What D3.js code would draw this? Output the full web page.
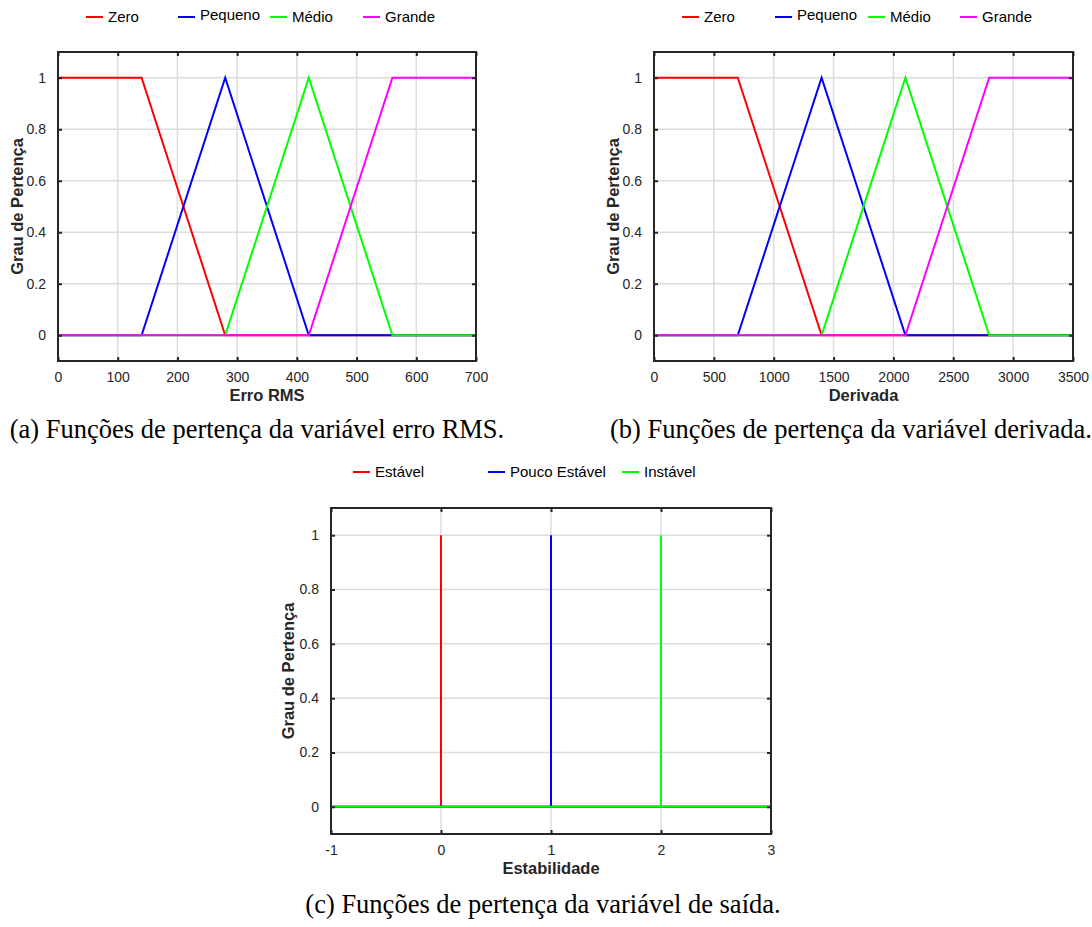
<!DOCTYPE html>
<html><head><meta charset="utf-8">
<script src="https://cdn.jsdelivr.net/npm/d3@7"></script>
<style>body{margin:0;background:#fff}svg{display:block}</style>
</head><body>
<svg id="c" width="1092" height="927"></svg>
<script>
// ---- data ----
const namesIn = ["Zero", "Pequeno", "Médio", "Grande"];
const namesOut = ["Estável", "Pouco Estável", "Instável"];
const colorsIn = ["#ff0000", "#0000ff", "#00ff00", "#ff00ff"];
const colorsOut = ["#ff0000", "#0000ff", "#00ff00"];
// Erro RMS membership functions [x, grau]
const errZero = [[0,1],[140,1],[280,0],[700,0]];
const errPequeno = [[0,0],[140,0],[280,1],[420,0],[700,0]];
const errMedio = [[0,0],[280,0],[420,1],[560,0],[700,0]];
const errGrande = [[0,0],[420,0],[560,1],[700,1]];
// Derivada membership functions
const derZero = [[0,1],[700,1],[1400,0],[3500,0]];
const derPequeno = [[0,0],[700,0],[1400,1],[2100,0],[3500,0]];
const derMedio = [[0,0],[1400,0],[2100,1],[2800,0],[3500,0]];
const derGrande = [[0,0],[2100,0],[2800,1],[3500,1]];
// Estabilidade (singletons)
const estEstavel = [[-1,0],[0,0],[0,1],[0,0],[3,0]];
const estPouco = [[-1,0],[1,0],[1,1],[1,0],[3,0]];
const estInstavel = [[-1,0],[2,0],[2,1],[2,0],[3,0]];
// ticks
const errTicks = [0,100,200,300,400,500,600,700];
const derTicks = [0,500,1000,1500,2000,2500,3000,3500];
const estTicks = [-1,0,1,2,3];
const yTicks = [0,0.2,0.4,0.6,0.8,1];
const yTickLabels = ["0","0.2","0.4","0.6","0.8","1"];
const captions = ["(a) Funções de pertença da variável erro RMS.",
  "(b) Funções de pertença da variável derivada.",
  "(c) Funções de pertença da variável de saída."];

const svg = d3.select("#c");
const SANS = "'Liberation Sans', Arial, sans-serif";

function panel(o) {
  const g = svg.append("g");
  const x = d3.scaleLinear().domain(o.xDomain).range([o.left, o.right]);
  const y = d3.scaleLinear().domain([-0.1, 1.1]).range([o.bottom, o.top]);
  // grid
  g.append("g").selectAll("line").data(o.xTicks).join("line")
    .attr("x1", d => x(d)).attr("x2", d => x(d)).attr("y1", o.top).attr("y2", o.bottom)
    .attr("stroke", "#dcdcdc").attr("stroke-width", 1.5);
  g.append("g").selectAll("line").data(yTicks).join("line")
    .attr("y1", d => y(d)).attr("y2", d => y(d)).attr("x1", o.left).attr("x2", o.right)
    .attr("stroke", "#dcdcdc").attr("stroke-width", 1.5);
  // series
  const line = d3.line().x(d => x(d[0])).y(d => y(d[1]));
  o.series.forEach((s, i) => {
    g.append("path").datum(s).attr("d", line).attr("fill", "none")
      .attr("stroke", o.colors[i]).attr("stroke-width", 2).attr("stroke-linejoin", "miter");
  });
  // axes with inner ticks
  const tk = 4;
  const axB = g.append("g").attr("transform", `translate(0,${o.bottom})`)
    .call(d3.axisBottom(x).tickValues(o.xTicks).tickSize(-tk).tickPadding(11).tickFormat(d => String(d)));
  const axT = g.append("g").attr("transform", `translate(0,${o.top})`)
    .call(d3.axisTop(x).tickValues(o.xTicks).tickSize(-tk).tickFormat(""));
  const axL = g.append("g").attr("transform", `translate(${o.left},0)`)
    .call(d3.axisLeft(y).tickValues(yTicks).tickSize(-tk).tickPadding(12).tickFormat((d, i) => yTickLabels[i]));
  const axR = g.append("g").attr("transform", `translate(${o.right},0)`)
    .call(d3.axisRight(y).tickValues(yTicks).tickSize(-tk).tickFormat(""));
  [axB, axT, axL, axR].forEach(a => {
    a.select(".domain").remove();
    a.selectAll(".tick line").attr("stroke", "#262626").attr("stroke-width", 2);
    a.selectAll("text").attr("font-family", SANS).attr("font-size", 14).attr("fill", "#262626");
  });
  // box
  g.append("rect").attr("x", o.left).attr("y", o.top).attr("width", o.right - o.left)
    .attr("height", o.bottom - o.top).attr("fill", "none").attr("stroke", "#262626").attr("stroke-width", 2);
  // axis titles
  g.append("text").attr("x", (o.left + o.right) / 2).attr("y", o.bottom + 40)
    .attr("text-anchor", "middle").attr("font-family", SANS).attr("font-weight", "bold")
    .attr("font-size", 16.5).attr("fill", "#262626").text(o.xTitle);
  g.append("text").attr("transform", `translate(${o.yTitleX},${(o.top + o.bottom) / 2}) rotate(-90)`)
    .attr("text-anchor", "middle").attr("font-family", SANS).attr("font-weight", "bold")
    .attr("font-size", 16.5).attr("fill", "#262626").text("Grau de Pertença");
  // legend
  o.names.forEach((n, i) => {
    const lx = o.legX[i];
    g.append("line").attr("x1", lx).attr("x2", lx + 17).attr("y1", o.legY).attr("y2", o.legY)
      .attr("stroke", o.colors[i]).attr("stroke-width", 2);
    g.append("text").attr("x", lx + 22).attr("y", o.legY + 5 - (i === 1 && o.names.length === 4 ? 2 : 0))
      .attr("font-family", SANS).attr("font-size", 15).attr("fill", "#000").text(n);
  });
  // caption
  g.append("text").attr("x", o.capX).attr("y", o.capY).attr("text-anchor", "middle")
    .attr("font-family", "'Liberation Serif', 'Times New Roman', serif").attr("font-size", 26.5)
    .attr("fill", "#000").text(o.caption);
}

panel({xDomain: [0, 700], left: 58, right: 476, top: 52, bottom: 361, xTicks: errTicks,
  series: [errZero, errPequeno, errMedio, errGrande], colors: colorsIn, names: namesIn,
  xTitle: "Erro RMS", yTitleX: 23, legX: [86, 178, 270, 363], legY: 17,
  caption: captions[0], capX: 257, capY: 438});
panel({xDomain: [0, 3500], left: 654, right: 1073, top: 52, bottom: 361, xTicks: derTicks,
  series: [derZero, derPequeno, derMedio, derGrande], colors: colorsIn, names: namesIn,
  xTitle: "Derivada", yTitleX: 619, legX: [682, 775, 868, 960], legY: 17,
  caption: captions[1], capX: 851, capY: 438});
panel({xDomain: [-1, 3], left: 331, right: 771, top: 508, bottom: 834, xTicks: estTicks,
  series: [estEstavel, estPouco, estInstavel], colors: colorsOut, names: namesOut,
  xTitle: "Estabilidade", yTitleX: 294, legX: [353, 488, 622], legY: 472,
  caption: captions[2], capX: 543, capY: 913});
</script>
</body></html>
